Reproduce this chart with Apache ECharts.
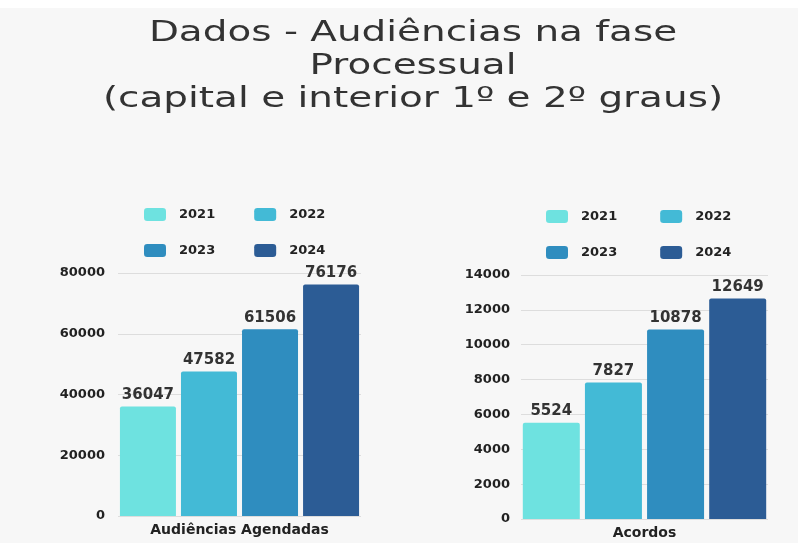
<!DOCTYPE html>
<html>
<head>
<meta charset="utf-8">
<script src="https://cdn.jsdelivr.net/npm/echarts@6/dist/echarts.min.js"></script>
<style>
  html, body { margin: 0; padding: 0; background: #f7f7f7; }
  #chart { width: 798px; height: 543px; }
</style>
</head>
<body>
<div id="chart"></div>
<script>
const years = ['2021', '2022', '2023', '2024']
const colors = ['#6ee2e0', '#43bad6', '#2f8dbf', '#2c5c95']
const leftCategory = ['Audiências Agendadas']
const rightCategory = ['Acordos']
const audiencias = [36047, 47582, 61506, 76176]
const acordos = [5524, 7827, 10878, 12649]

const titleText = 'Dados - Audiências na fase\nProcessual\n(capital e interior 1º e 2º graus)'

const chart = echarts.init(document.getElementById('chart'))

const labelFont = 'DejaVu Sans'

const makeSeries = (values, axisIndex, width) => {
    return years.map((y, i) => ({
        name: y,
        type: 'bar',
        xAxisIndex: axisIndex,
        yAxisIndex: axisIndex,
        barWidth: width,
        barGap: '9%',
        data: [values[i]],
        itemStyle: {color: colors[i], borderRadius: [2, 2, 0, 0]},
        label: {
            show: true,
            position: 'top',
            distance: 4,
            color: '#333',
            fontFamily: labelFont,
            fontWeight: 'bold',
            fontSize: 15
        }
    }))
}

const makeLegend = (names, left, top, gap) => ({
    data: names,
    left: left,
    top: top,
    itemWidth: 22,
    itemHeight: 13,
    itemGap: gap,
    icon: 'roundRect',
    selectedMode: false,
    textStyle: {
        color: '#222',
        fontFamily: labelFont,
        fontWeight: 'bold',
        fontSize: 13,
        padding: [0, 0, 0, 8]
    }
})

const axisLabelStyle = {
    color: '#222',
    fontFamily: labelFont,
    fontWeight: 'bold',
    fontSize: 12,
    formatter: (v) => String(v)
}

const option = {
    backgroundColor: '#f7f7f7',
    animation: false,
    graphic: [
        {type: 'rect', shape: {x: 0, y: 0, width: 798, height: 8}, style: {fill: '#ffffff'}},
        {
            // title is stretched sideways in the original
            type: 'text',
            x: 413,
            y: 17,
            scaleX: 1.39,
            style: {
                text: titleText,
                fontFamily: 'DejaVu Sans',
                fontSize: 28,
                lineHeight: 33,
                fill: '#333',
                align: 'center',
                verticalAlign: 'top'
            }
        }
    ],
    legend: [
        makeLegend(['2021', '2022'], 139, 203, 39),
        makeLegend(['2023', '2024'], 139, 239, 39),
        makeLegend(['2021', '2022'], 541, 205, 43),
        makeLegend(['2023', '2024'], 541, 241, 43)
    ],
    grid: [
        {left: 118, width: 243, top: 273, bottom: 27},
        {left: 521, width: 247, top: 275, bottom: 24}
    ],
    xAxis: [
        {
            type: 'category', gridIndex: 0, data: leftCategory,
            axisLine: {show: false}, axisTick: {show: false},
            axisLabel: {...axisLabelStyle, fontSize: 14, margin: 7}
        },
        {
            type: 'category', gridIndex: 1, data: rightCategory,
            axisLine: {show: false}, axisTick: {show: false},
            axisLabel: {...axisLabelStyle, fontSize: 14, margin: 7}
        }
    ],
    yAxis: [
        {
            type: 'value', gridIndex: 0, min: 0, max: 80000, interval: 20000,
            axisLabel: {...axisLabelStyle, fontSize: 13, margin: 13},
            splitLine: {lineStyle: {color: '#dddddd'}}
        },
        {
            type: 'value', gridIndex: 1, min: 0, max: 14000, interval: 2000,
            axisLabel: {...axisLabelStyle, fontSize: 13, margin: 11},
            splitLine: {lineStyle: {color: '#dddddd'}}
        }
    ],
    series: [
        ...makeSeries(audiencias, 0, 56),
        ...makeSeries(acordos, 1, 57)
    ]
}

chart.setOption(option)
</script>
</body>
</html>
